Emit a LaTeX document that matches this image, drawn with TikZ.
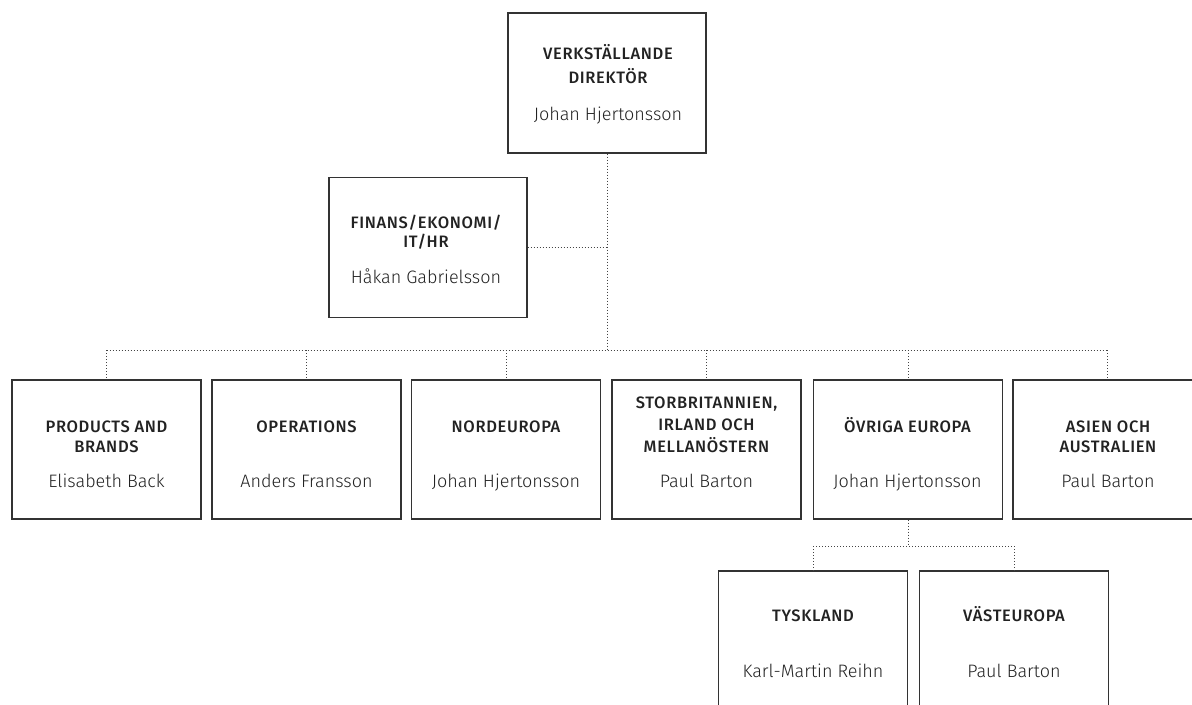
\documentclass[tikz,border=0pt]{standalone}
\usepackage{fontspec}
\setmainfont{Fira Sans}[UprightFont=* Light, BoldFont=* Medium]
\definecolor{boxc}{HTML}{333333}
\definecolor{txt}{HTML}{222222}
\definecolor{dotc}{HTML}{444444}
\begin{document}
\begin{tikzpicture}[x=0.75pt,y=-0.75pt,
  box/.style={draw=boxc, line width=1pt, inner sep=0pt, minimum width=141.75pt, minimum height=104.25pt},
  bigbox/.style={box, minimum width=148.5pt, minimum height=105pt},
  conn/.style={draw=dotc, line width=0.7pt, dash pattern=on 0.7pt off 1.55pt},
  ttl/.style={anchor=base, text=txt, font=\fontsize{12.4}{14}\selectfont\bfseries\addfontfeatures{LetterSpace=4}},
  nm/.style={anchor=base, text=txt, font=\fontsize{13.5}{16}\selectfont}]
\useasboundingbox (0,0) rectangle (1192,704);
\clip (0,0) rectangle (1192,704);
% boxes
\node[bigbox] (vd) at (607,83) {};
\node[bigbox] (fin) at (428,247.5) {};
\node[box] (pb) at (106.5,449.5) {};
\node[box] (op) at (306.5,449.5) {};
\node[box] (ne) at (506,449.5) {};
\node[box] (sb) at (706.5,449.5) {};
\node[box] (oe) at (908,449.5) {};
\node[box] (ao) at (1107.5,449.5) {};
\node[box] (ty) at (813,640.5) {};
\node[box] (ve) at (1014,640.5) {};
% connectors
\coordinate (bus) at (607,350);
\coordinate (bus2) at (908,546);
\draw[conn] (vd.south) -- (bus);
\draw[conn] (fin.east) -- (fin.east -| bus);
\draw[conn] (bus -| pb.north) -- (bus -| ao.north);
\foreach \b in {pb,op,ne,sb,oe,ao} \draw[conn] (bus -| \b.north) -- (\b.north);
\draw[conn] (oe.south) -- (bus2);
\draw[conn] (bus2 -| ty.north) -- (bus2 -| ve.north);
\foreach \b in {ty,ve} \draw[conn] (bus2 -| \b.north) -- (\b.north);
% texts
\node[ttl] (vdt1) at (608,59) {VERKSTÄLLANDE};
\node[ttl] (vdt2) at (608,83) {DIREKTÖR};
\node[nm] (vdn) at (608,120) {Johan Hjertonsson};
\node[ttl] (fint1) at (426,228) {FINANS/EKONOMI/};
\node[ttl] (fint2) at (426,247) {IT/HR};
\node[nm] (finn) at (426,283) {Håkan Gabrielsson};
\node[ttl] (pbt1) at (106.5,432) {PRODUCTS AND};
\node[ttl] (pbt2) at (106.5,452) {BRANDS};
\node[nm] (pbn) at (106.5,487) {Elisabeth Back};
\node[ttl] (opt1) at (306.5,432) {OPERATIONS};
\node[nm] (opn) at (306.5,487) {Anders Fransson};
\node[ttl] (net1) at (506,432) {NORDEUROPA};
\node[nm] (nen) at (506,487) {Johan Hjertonsson};
\node[ttl] (sbt1) at (706.5,408) {STORBRITANNIEN,};
\node[ttl] (sbt2) at (706.5,430) {IRLAND OCH};
\node[ttl] (sbt3) at (706.5,452) {MELLANÖSTERN};
\node[nm] (sbn) at (706.5,487) {Paul Barton};
\node[ttl] (oet1) at (907.5,432) {ÖVRIGA EUROPA};
\node[nm] (oen) at (907.5,487) {Johan Hjertonsson};
\node[ttl] (aot1) at (1108,432) {ASIEN OCH};
\node[ttl] (aot2) at (1108,452) {AUSTRALIEN};
\node[nm] (aon) at (1108,487) {Paul Barton};
\node[ttl] (tyt1) at (813,621) {TYSKLAND};
\node[nm] (tyn) at (813,677) {Karl-Martin Reihn};
\node[ttl] (vet1) at (1014,621) {VÄSTEUROPA};
\node[nm] (ven) at (1014,677) {Paul Barton};
\end{tikzpicture}
\end{document}
